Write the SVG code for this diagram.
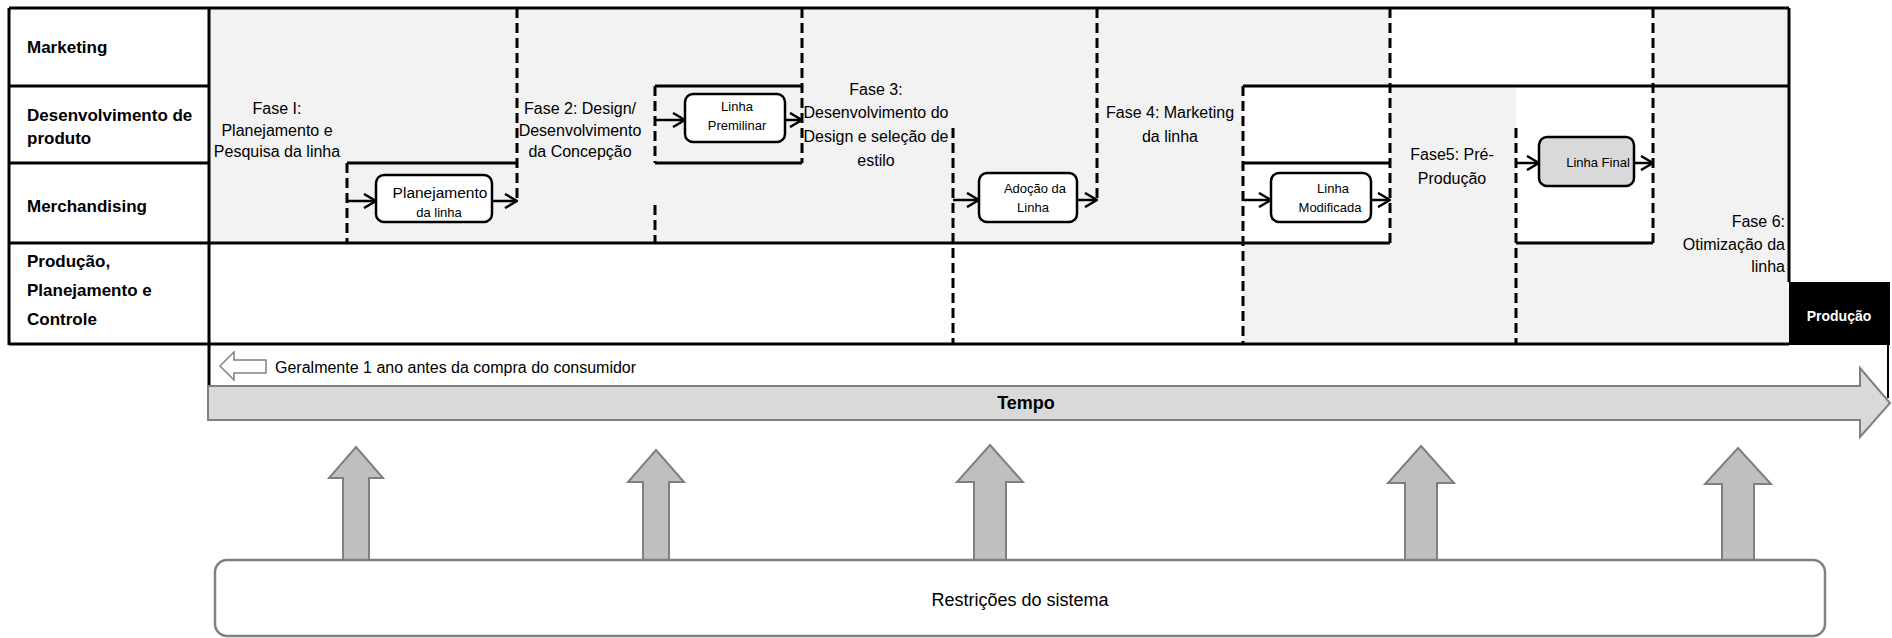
<svg xmlns="http://www.w3.org/2000/svg" width="1892" height="638" viewBox="0 0 1892 638">
  <defs>
    <style>
      text { font-family: "Liberation Sans", Arial, sans-serif; fill: #000; }
      .lane { font-size: 17px; font-weight: bold; }
      .phase { font-size: 16px; text-anchor: middle; }
      .phase-r { font-size: 16px; text-anchor: end; }
      .box-t { font-size: 13px; text-anchor: middle; }
      .shade { fill: #f2f2f2; stroke: none; }
      .rule { stroke: #000; stroke-width: 3; fill: none; }
      .dash { stroke: #000; stroke-width: 3; fill: none; stroke-dasharray: 10 5; }
      .node { fill: #fff; stroke: #000; stroke-width: 2.5; }
      .flow { stroke: #000; stroke-width: 2.5; fill: none; marker-end: url(#chevron); }
      .block { fill: #bfbfbf; stroke: #7f7f7f; stroke-width: 2; }
    </style>
    <marker id="chevron" viewBox="0 0 14 16" refX="13" refY="8" markerWidth="14" markerHeight="16" markerUnits="userSpaceOnUse" orient="auto">
      <path d="M1,1 L13,8 L1,15" fill="none" stroke="#000" stroke-width="2.5"/>
    </marker>
  </defs>

  <!-- swimlane grid: shaded phase areas -->
  <g id="lanes">
    <rect class="shade" x="209" y="8" width="1181" height="78"/>
    <rect class="shade" x="1653" y="8" width="136" height="336"/>
    <rect class="shade" x="209" y="86" width="1034" height="157"/>
    <rect class="shade" x="1390" y="86" width="126" height="258"/>
    <rect class="shade" x="1243" y="243" width="410" height="101"/>

    <!-- solid rules -->
    <path class="rule" d="M9,8 H1789 M9,8 V345 M209,8 V386 M9,344 H1789 M1789,8 V282"/>
    <path class="rule" d="M9,86 H209 M655,86 H802 M1243,86 H1789"/>
    <path class="rule" d="M9,163 H209 M347,163 H517 M655,163 H802 M1243,163 H1390"/>
    <path class="rule" d="M9,243 H1390 M1516,243 H1653"/>

    <!-- phase boundaries -->
    <path class="dash" d="M517,8 V203 M347,163 V243 M655,86 V163 M655,205 V243 M802,8 V163 M953,128 V344 M1097,8 V202 M1243,86 V344 M1390,8 V243 M1516,128 V344 M1653,8 V243"/>

    <!-- lane labels -->
    <text class="lane" x="27" y="53">Marketing</text>
    <text class="lane" x="27" y="121">Desenvolvimento de</text>
    <text class="lane" x="27" y="144">produto</text>
    <text class="lane" x="27" y="212">Merchandising</text>
    <text class="lane" x="27" y="267">Produção,</text>
    <text class="lane" x="27" y="296">Planejamento e</text>
    <text class="lane" x="27" y="325">Controle</text>
  </g>

  <!-- phase captions -->
  <g id="phases">
    <text class="phase" x="277" y="114">Fase I:</text>
    <text class="phase" x="277" y="136">Planejamento e</text>
    <text class="phase" x="277" y="157">Pesquisa da linha</text>

    <text class="phase" x="580" y="114">Fase 2: Design/</text>
    <text class="phase" x="580" y="136">Desenvolvimento</text>
    <text class="phase" x="580" y="157">da Concepção</text>

    <text class="phase" x="876" y="95">Fase 3:</text>
    <text class="phase" x="876" y="118">Desenvolvimento do</text>
    <text class="phase" x="876" y="142">Design e seleção de</text>
    <text class="phase" x="876" y="166">estilo</text>

    <text class="phase" x="1170" y="118">Fase 4: Marketing</text>
    <text class="phase" x="1170" y="142">da linha</text>

    <text class="phase" x="1452" y="160">Fase5: Pré-</text>
    <text class="phase" x="1452" y="184">Produção</text>

    <text class="phase-r" x="1785" y="227">Fase 6:</text>
    <text class="phase-r" x="1785" y="250">Otimização da</text>
    <text class="phase-r" x="1785" y="272">linha</text>
  </g>

  <!-- process nodes -->
  <g id="node-planejamento">
    <rect class="node" x="376" y="175" width="116" height="47" rx="8"/>
    <text x="440" y="198" style="font-size:15.5px;text-anchor:middle">Planejamento</text>
    <text x="439" y="217" style="font-size:13px;text-anchor:middle">da linha</text>
  </g>
  <g id="node-premilinar">
    <rect class="node" x="685" y="94" width="100" height="48" rx="8"/>
    <text class="box-t" x="737" y="111">Linha</text>
    <text class="box-t" x="737" y="130">Premilinar</text>
  </g>
  <g id="node-adocao">
    <rect class="node" x="979" y="173" width="98" height="49" rx="8"/>
    <text class="box-t" x="1035" y="193">Adoção da</text>
    <text class="box-t" x="1033" y="212">Linha</text>
  </g>
  <g id="node-modificada">
    <rect class="node" x="1271" y="173" width="100" height="49" rx="8"/>
    <text class="box-t" x="1333" y="193">Linha</text>
    <text class="box-t" x="1330" y="212">Modificada</text>
  </g>
  <g id="node-final">
    <rect class="node" x="1539" y="137" width="95" height="49" rx="8" style="fill:#d9d9d9"/>
    <text class="box-t" x="1598" y="167">Linha Final</text>
  </g>
  <g id="node-producao">
    <rect x="1789" y="282" width="101" height="63" fill="#000"/>
    <text x="1839" y="321" style="font-size:14px;font-weight:bold;text-anchor:middle;fill:#fff">Produção</text>
  </g>

  <!-- flow connectors -->
  <g id="connectors">
    <path class="flow" d="M347,201 H376"/>
    <path class="flow" d="M492,201 H517"/>
    <path class="flow" d="M655,120 H685"/>
    <path class="flow" d="M785,120 H802"/>
    <path class="flow" d="M953,200 H979"/>
    <path class="flow" d="M1077,200 H1097"/>
    <path class="flow" d="M1243,200 H1271"/>
    <path class="flow" d="M1371,200 H1390"/>
    <path class="flow" d="M1516,163 H1539"/>
    <path class="flow" d="M1634,163 H1653"/>
    <path class="rule" d="M1888,345 V398" style="stroke-width:2"/>
  </g>

  <!-- timeline -->
  <g id="timeline">
    <polygon points="220,366 234,352 234,360 266,360 266,373 234,373 234,380" fill="#fff" stroke="#808080" stroke-width="1.5"/>
    <text x="275" y="373" style="font-size:16px">Geralmente 1 ano antes da compra do consumidor</text>
    <polygon points="208,386 1860,386 1860,368 1890,403 1860,437 1860,420 208,420" fill="#d9d9d9" stroke="#808080" stroke-width="2"/>
    <text x="1026" y="409" style="font-size:18px;font-weight:bold;text-anchor:middle">Tempo</text>
  </g>

  <!-- constraint arrows -->
  <g id="constraint-arrows">
    <polygon class="block" points="356,447 383,478 369,478 369,561 343,561 343,478 329,478"/>
    <polygon class="block" points="656,450 684,482 669,482 669,561 643,561 643,482 628,482"/>
    <polygon class="block" points="990,445 1023,482 1006,482 1006,561 974,561 974,482 957,482"/>
    <polygon class="block" points="1421,446 1454,483 1437,483 1437,561 1405,561 1405,483 1388,483"/>
    <polygon class="block" points="1738,448 1771,484 1754,484 1754,561 1722,561 1722,484 1705,484"/>
  </g>

  <!-- system constraints -->
  <g id="node-restricoes">
    <rect x="215" y="560" width="1610" height="76" rx="12" fill="#fff" stroke="#7f7f7f" stroke-width="2.5"/>
    <text x="1020" y="606" style="font-size:18px;text-anchor:middle">Restrições do sistema</text>
  </g>
</svg>
